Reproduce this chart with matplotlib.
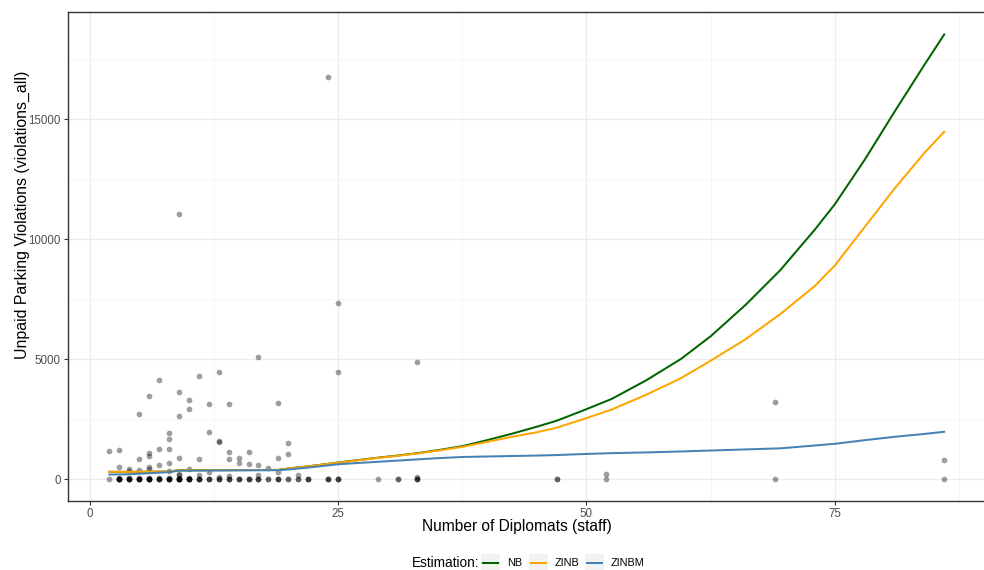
import matplotlib
matplotlib.use('Agg')
import matplotlib.pyplot as plt
from matplotlib.patches import Rectangle
from matplotlib.lines import Line2D

plt.rcParams['font.family'] = ['Liberation Sans', 'DejaVu Sans']

# observed embassies (non-zero violations)
staff = [2, 3, 3, 3, 4, 4, 4, 5, 5, 5, 5, 6, 6, 6, 6, 6, 6, 7, 7, 7, 7,
         8, 8, 8, 8, 8, 8, 9, 9, 9, 9, 9, 9, 9, 10, 10, 10, 10, 11, 11, 11,
         12, 12, 12, 13, 13, 13, 13, 14, 14, 14, 14, 15, 15, 16, 16,
         17, 17, 17, 18, 19, 19, 19, 20, 20, 21, 24, 25, 25, 33, 33,
         52, 69, 86]
violations = [1180, 1210, 500, 60, 440, 330, 60, 2720, 830, 390, 60,
              3480, 1090, 980, 490, 400, 60, 4110, 1250, 600, 60,
              1920, 1690, 1250, 670, 320, 60, 11060, 3630, 2640, 880, 230, 150, 60,
              3300, 2930, 400, 40, 4290, 840, 180,
              3110, 1980, 290, 4470, 1570, 1530, 90, 3110, 1120, 840, 130,
              880, 670, 1120, 640, 5070, 590, 170, 480, 3180, 880, 310,
              1510, 1060, 160, 16760, 7330, 4470, 4870, 100,
              200, 3220, 800]

# embassies with zero violations
zero_staff = [2, 3, 3, 3, 3, 3, 3, 4, 4, 4, 4, 4, 5, 5, 5, 5, 5,
              6, 6, 6, 6, 6, 6, 7, 7, 7, 7, 8, 8, 8, 8, 8,
              9, 9, 9, 9, 9, 9, 10, 10, 10, 10, 10, 11, 11, 11, 11,
              12, 12, 12, 13, 13, 13, 14, 14, 14, 15, 15, 15, 16, 16, 16,
              17, 17, 17, 18, 18, 19, 19, 19, 20, 20, 21, 21, 22, 22, 22,
              24, 24, 24, 25, 25, 25, 29, 31, 31, 33, 33, 33, 47, 47, 52, 69, 86]

# fitted curves
curve_staff = [2, 4, 8, 9, 19, 20, 22, 25, 27, 29, 31, 33, 35, 37.5, 40, 42.5,
               45, 47, 49.5, 52.5, 56, 59.5, 62.5, 66, 69.5, 73, 75, 78, 81, 84, 86]
fit_nb = [300, 300, 310, 370, 380, 440, 530, 690, 790, 890, 980, 1080, 1200,
          1370, 1620, 1890, 2180, 2430, 2830, 3330, 4110, 5000, 5950, 7250,
          8700, 10400, 11450, 13300, 15300, 17250, 18520]
fit_zinb = [300, 300, 310, 370, 380, 440, 530, 680, 780, 880, 970, 1070, 1180,
            1340, 1550, 1760, 1950, 2140, 2470, 2890, 3510, 4200, 4930, 5820,
            6870, 8050, 8900, 10500, 12100, 13580, 14470]
fit_zinbm = [190, 200, 290, 350, 370, 400, 480, 615, 670, 720, 770, 820, 870,
             920, 940, 960, 980, 1000, 1040, 1080, 1110, 1150, 1190, 1235, 1280,
             1400, 1470, 1620, 1760, 1880, 1970]

series_names = ['NB', 'ZINB', 'ZINBM']
series_colors = ['#006400', '#FFA500', '#4682B4']

W, H = 984, 570


def px(x, y):
    return x / W, 1 - y / H


def main():
    fig = plt.figure(figsize=(W / 100, H / 100), dpi=100)
    ax = fig.add_axes([67.7 / W, 1 - 501.3 / H, (985.9 - 67.7) / W, (501.3 - 12.3) / H])

    all_x = staff + zero_staff
    lo, hi = min(all_x), max(all_x)
    pad = 0.05 * (hi - lo)
    ax.set_xlim(lo - pad, hi + pad)
    ytop = max(max(fit_nb), max(violations))
    ax.set_ylim(-0.05 * ytop, 1.05 * ytop)

    ax.scatter(all_x, violations + [0] * len(zero_staff), s=17, color='black',
               alpha=0.38, linewidths=0, zorder=2)

    for fit, name, col in zip([fit_nb, fit_zinb, fit_zinbm], series_names, series_colors):
        ax.plot(curve_staff, fit, color=col, lw=1.45, zorder=3, label=name)

    ax.set_xticks([0, 25, 50, 75])
    ax.set_xticks([12.5, 37.5, 62.5, 87.5], minor=True)
    ax.set_yticks([0, 5000, 10000, 15000])
    ax.set_yticks([2500, 7500, 12500, 17500], minor=True)
    ax.grid(which='major', color='#EBEBEB', lw=0.8)
    ax.grid(which='minor', color='#F2F2F2', lw=0.5)
    ax.set_axisbelow(True)
    for sp in ax.spines.values():
        sp.set_color('#333333')
        sp.set_linewidth(1.0)
    ax.tick_params(which='major', length=2.6, width=0.8, color='#333333',
                   labelcolor='#4D4D4D', labelsize=8.3, pad=2.5)
    ax.tick_params(which='minor', length=0)

    ax.set_xlabel('Number of Diplomats (staff)', fontsize=11.2)
    ax.set_ylabel('Unpaid Parking Violations (violations_all)', fontsize=11.4)
    ax.xaxis.set_label_coords(0.489, -0.037)
    ax.yaxis.set_label_coords(-0.041, 0.585)

    # legend at the bottom, ggplot style
    fig.text(*px(411.7, 563), 'Estimation:', fontsize=9.8, va='center', ha='left')
    key_left = [481, 529, 585]
    for kx, name, col in zip(key_left, series_names, series_colors):
        x0, y0 = px(kx, 571.6)
        fig.patches.append(Rectangle((x0, y0), 19 / W, 17.6 / H, transform=fig.transFigure,
                                     facecolor='#F2F2F2', edgecolor='none'))
        lx0, ly = px(kx + 1.7, 562.8)
        lx1, _ = px(kx + 17.3, 562.8)
        fig.lines.append(Line2D([lx0, lx1], [ly, ly], transform=fig.transFigure,
                                color=col, lw=1.45))
        fig.text(*px(kx + 25.7, 563), name, fontsize=7.8, va='center', ha='left')

    fig.savefig('out.png', dpi=100)


if __name__ == '__main__':
    main()
